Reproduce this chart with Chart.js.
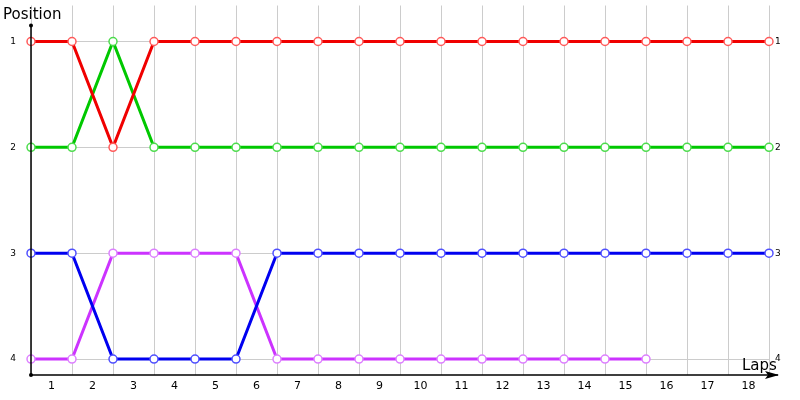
<!DOCTYPE html>
<html>
<head>
<meta charset="utf-8">
<script src="https://cdn.jsdelivr.net/npm/chart.js@4"></script>
<style>
  html, body { margin: 0; padding: 0; background: #fff; }
  #wrap { width: 800px; height: 400px; }
</style>
</head>
<body>
<div id="wrap"><canvas id="chart"></canvas></div>
<script>
// grid points (start line + end of each lap) and lap labels
const lapPoints = ['0', '1', '2', '3', '4', '5', '6', '7', '8', '9', '10', '11', '12', '13', '14', '15', '16', '17', '18'];
const lapLabels = ['1', '2', '3', '4', '5', '6', '7', '8', '9', '10', '11', '12', '13', '14', '15', '16', '17', '18'];
const positionTicks = [1, 2, 3, 4];

// positions per driver
const redPos = [1, 1, 2, 1, 1, 1, 1, 1, 1, 1, 1, 1, 1, 1, 1, 1, 1, 1, 1];
const greenPos = [2, 2, 1, 2, 2, 2, 2, 2, 2, 2, 2, 2, 2, 2, 2, 2, 2, 2, 2];
const bluePos = [3, 3, 4, 4, 4, 4, 3, 3, 3, 3, 3, 3, 3, 3, 3, 3, 3, 3, 3];
const purplePos = [4, 4, 3, 3, 3, 3, 4, 4, 4, 4, 4, 4, 4, 4, 4, 4];

const FONT = 'DejaVu Sans';

const series = (data, line, point) => ({
  data: data,
  borderColor: line,
  borderWidth: 3,
  pointRadius: 4,
  pointHoverRadius: 4,
  pointBorderWidth: 1.5,
  pointBackgroundColor: '#ffffff',
  pointBorderColor: point,
  tension: 0,
  xAxisID: 'x',
  yAxisID: 'y',
});

// black axes with arrow + axis captions
const axesPlugin = {
  id: 'axes',
  afterDraw(chart) {
    const ctx = chart.ctx;
    const { left, bottom } = chart.chartArea;
    const top = chart.scales.y.getPixelForValue(0.85);
    ctx.save();
    ctx.strokeStyle = '#000';
    ctx.fillStyle = '#000';
    ctx.lineWidth = 1.5;
    ctx.beginPath();
    ctx.moveTo(left, top);
    ctx.lineTo(left, bottom);
    ctx.lineTo(778, bottom);
    ctx.stroke();
    ctx.beginPath();
    ctx.moveTo(779, bottom);
    ctx.lineTo(765, bottom - 4);
    ctx.lineTo(768, bottom);
    ctx.lineTo(765, bottom + 4);
    ctx.closePath();
    ctx.fill();
    [[left, top], [left, bottom]].forEach(([x, y]) => {
      ctx.beginPath();
      ctx.arc(x, y, 2, 0, Math.PI * 2);
      ctx.fill();
    });
    ctx.font = '15px ' + FONT;
    ctx.textBaseline = 'middle';
    ctx.textAlign = 'left';
    ctx.fillText('Position', 3, 15);
    ctx.fillText('Laps', 742, 366);
    ctx.restore();
  }
};

const fixedHeight = (size) => (scale) => { scale.height = size; };
const fixedWidth = (size) => (scale) => {
  scale.width = size;
  scale.paddingTop = 0;
  scale.paddingBottom = 0;
};
const setTicks = (scale) => { scale.ticks = positionTicks.map(v => ({ value: v })); };

new Chart(document.getElementById('chart'), {
  type: 'line',
  data: {
    labels: lapPoints,
    datasets: [
      series(redPos, '#f00000', '#ff5a5a'),
      series(greenPos, '#00c800', '#4ddc4d'),
      series(bluePos, '#0000f0', '#5050ff'),
      series(purplePos, '#cc33ff', '#dd80ff'),
    ],
  },
  options: {
    responsive: true,
    maintainAspectRatio: false,
    animation: false,
    layout: { padding: { top: 5, left: 0, right: 0, bottom: 0 } },
    plugins: { legend: { display: false }, tooltip: { enabled: false } },
    scales: {
      x: {
        type: 'category',
        offset: false,
        position: 'bottom',
        grid: { color: '#cccccc', lineWidth: 1, drawTicks: false },
        border: { display: false },
        ticks: { display: false },
        afterFit: fixedHeight(0),
      },
      x2: {
        type: 'category',
        labels: lapLabels,
        offset: true,
        position: 'bottom',
        grid: { display: false, drawTicks: false },
        border: { display: false },
        ticks: { color: '#000', padding: 5, font: { family: FONT, size: 11 }, maxRotation: 0, autoSkip: false },
        afterFit: fixedHeight(25),
      },
      y: {
        type: 'linear',
        position: 'left',
        reverse: true,
        min: 0.66,
        max: 4.151,
        afterBuildTicks: setTicks,
        grid: { color: '#cccccc', lineWidth: 1, drawTicks: false },
        border: { display: false },
        ticks: { color: '#000', padding: 15, font: { family: FONT, size: 9 } },
        afterFit: fixedWidth(31),
      },
      y2: {
        type: 'linear',
        position: 'right',
        display: true,
        reverse: true,
        min: 0.66,
        max: 4.151,
        afterBuildTicks: setTicks,
        grid: { display: false, drawTicks: false },
        border: { display: false },
        ticks: { color: '#000', padding: 6, font: { family: FONT, size: 9 } },
        afterFit: fixedWidth(31),
      },
    },
  },
  plugins: [axesPlugin],
});
</script>
</body>
</html>
